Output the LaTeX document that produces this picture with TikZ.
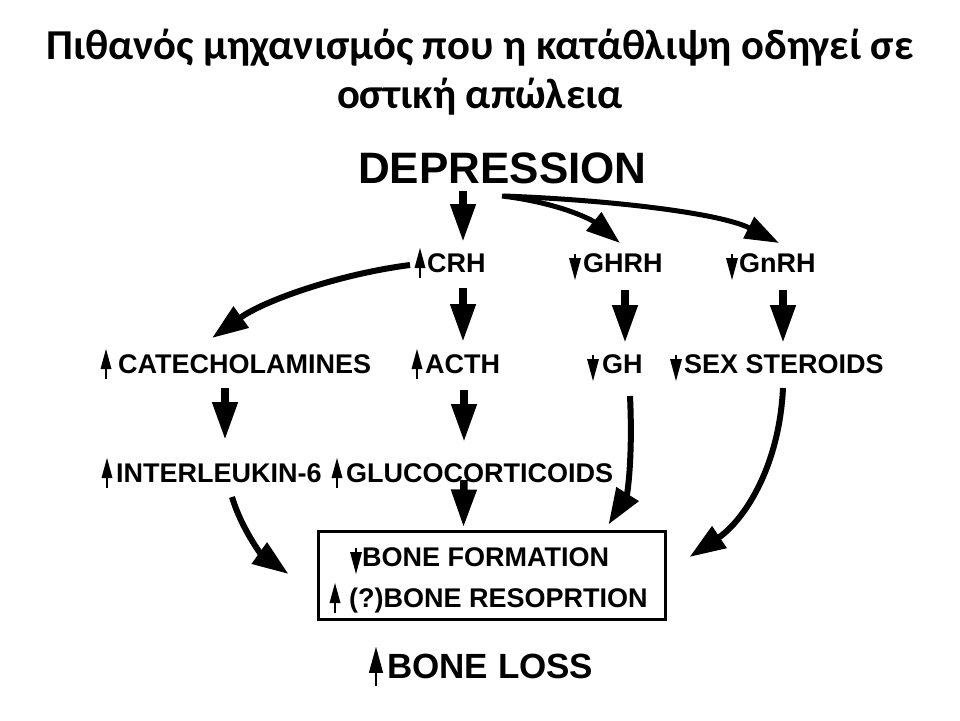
\documentclass[tikz,border=0pt]{standalone}
\usepackage{fontspec}
\setmainfont{Carlito}
\newfontfamily\arialf{Liberation Sans}
\usetikzlibrary{arrows.meta,calc}
\tikzset{
  titlefont/.style={font=\bfseries\fontsize{42.6}{48}\selectfont, inner sep=0pt, anchor=base},
  lbl/.style={font=\arialf\bfseries\fontsize{27}{30}\selectfont, inner sep=0pt, anchor=base west},
  biglbl/.style={font=\arialf\bfseries\fontsize{44}{50}\selectfont, inner sep=0pt, anchor=base west},
  losslbl/.style={font=\arialf\bfseries\fontsize{35}{40}\selectfont, inner sep=0pt, anchor=base west},
  big/.style={line width=7.5pt, -{Triangle[length=38pt,width=24pt]}},
  curvy/.style={line width=6pt, -{Triangle[length=36pt,width=25pt]}},
  thincurvy/.style={line width=5pt, -{Triangle[length=34pt,width=23pt]}},
  upa/.pic={\draw[line width=2.8pt] (0,6)--(0,-6); \fill (-5.5,-4)--(0,-24)--(5.5,-4)--cycle;},
  dna/.pic={\draw[line width=2.8pt] (0,-18)--(0,-10); \fill (-6,-14)--(0,8)--(6,-14)--cycle;}
}
\begin{document}
\begin{tikzpicture}[x=1pt,y=-1pt]
\useasboundingbox (0,0) rectangle (960,720);
\fill[white] (0,0) rectangle (960,720);

% title
\node[titlefont] (t1) at (480,59) {Πιθανός μηχανισμός που η κατάθλιψη οδηγεί σε};
\node[titlefont] (t2) at (480,108) {οστική απώλεια};

% labels
\node[biglbl] (depr) at (358,183) {DEPRESSION};
\node[lbl] (crh) at (427,272) {CRH};
\node[lbl] (ghrh) at (583,272) {GHRH};
\node[lbl] (gnrh) at (739,272) {GnRH};
\node[lbl] (cat) at (118,373) {CATECHOLAMINES};
\node[lbl] (acth) at (425,373) {ACTH};
\node[lbl] (gh) at (602,373) {GH};
\node[lbl] (sex) at (684,373) {SEX STEROIDS};
\node[lbl] (il6) at (116,482) {INTERLEUKIN-6};
\node[lbl] (gluco) at (346,482) {GLUCOCORTICOIDS};
\node[draw, line width=3pt, minimum width=347pt, minimum height=88pt, inner sep=0pt] (box) at (491.5,575) {};
\node[lbl] (bf) at (362,566) {BONE FORMATION};
\node[lbl] (br) at (349,607) {(?)BONE RESOPRTION};
\node[losslbl] (loss) at (387,678) {BONE LOSS};

% small up/down arrows
\pic at (420,272) {upa};
\pic at (575,272) {dna};
\pic at (732,272) {dna};
\pic at (106,373) {upa};
\pic at (417,373) {upa};
\pic at (593,373) {dna};
\pic at (676,373) {dna};
\pic at (107,482) {upa};
\pic at (337,482) {upa};
\pic at (356,566) {dna};
\pic at (335,607) {upa};
\pic[scale=1.3] at (376,678) {upa};

% connectors
\draw[big] ($(depr.base west)+(105,8)$) -- ($(crh.base west)+(36,-30)$);
\draw[thincurvy] ($(depr.base west)+(144,13)$) .. controls (560,203) and (592,220) .. ($(ghrh.base west)+(37,-29)$);
\draw[thincurvy] ($(depr.base west)+(146,13)$) .. controls (610,200) and (720,213) .. ($(gnrh.base west)+(40,-29)$);
\draw[curvy] ($(crh.base west)+(-17,-7)$) .. controls (340,274) and (265,300) .. ($(cat.base west)+(94,-35)$);
\draw[big] ($(crh.base west)+(36,16)$) -- ($(acth.base west)+(38,-31)$);
\draw[big] ($(ghrh.base west)+(42,18)$) -- ($(gh.base west)+(23,-30)$);
\draw[big] ($(gnrh.base west)+(44,18)$) -- ($(sex.base west)+(99,-30)$);
\draw[big] ($(cat.base west)+(107,15)$) -- ($(il6.base west)+(109,-42)$);
\draw[big] ($(acth.base west)+(39,17)$) -- ($(gluco.base west)+(118,-40)$);
\draw[curvy] ($(il6.base west)+(116,15)$) .. controls (242,530) and (262,555) .. ($(box.west)+(-28,-1)$);
\draw[big] ($(gluco.base west)+(118,-2)$) -- ($(box.north)+(-28,-2)$);
\draw[curvy] ($(gh.base west)+(28,23)$) .. controls (633,460) and (627,495) .. ($(box.north east)+(-58,-5)$);
\draw[curvy] ($(sex.base west)+(99,15)$) .. controls (779,470) and (742,522) .. ($(box.east)+(23,-18)$);
\end{tikzpicture}
\end{document}
